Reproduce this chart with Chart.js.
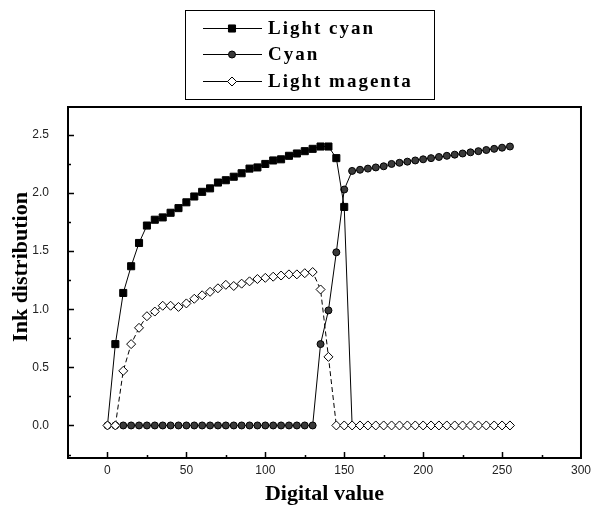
<!DOCTYPE html>
<html>
<head>
<meta charset="utf-8">
<script src="https://cdn.jsdelivr.net/npm/chart.js@4.4.1/dist/chart.umd.min.js"></script>
<style>
  html, body { margin: 0; padding: 0; background: #fff; }
  #wrap { width: 596px; height: 509px; }
</style>
</head>
<body>
<div id="wrap"><canvas id="chart" width="596" height="509"></canvas></div>
<script>
// digital value steps (x)
const digitalValues = [0, 5, 10, 15, 20, 25, 30, 35, 40, 45, 50, 55, 60, 65, 70, 75, 80, 85, 90, 95,
  100, 105, 110, 115, 120, 125, 130, 135, 140, 145, 150, 155, 160, 165, 170, 175, 180, 185, 190, 195,
  200, 205, 210, 215, 220, 225, 230, 235, 240, 245, 250, 255];

const lightCyan = [0, 0.70, 1.14, 1.37, 1.57, 1.72, 1.77, 1.79, 1.83, 1.87, 1.92, 1.97, 2.01, 2.04, 2.09, 2.11,
  2.14, 2.17, 2.21, 2.22, 2.25, 2.28, 2.29, 2.32, 2.34, 2.36, 2.38, 2.40, 2.40, 2.30, 1.88,
  0, 0, 0, 0, 0, 0, 0, 0, 0, 0, 0, 0, 0, 0, 0, 0, 0, 0, 0, 0, 0];

const cyan = [0, 0, 0, 0, 0, 0, 0, 0, 0, 0, 0, 0, 0, 0, 0, 0, 0, 0, 0, 0, 0, 0, 0, 0, 0, 0, 0,
  0.70, 0.99, 1.49, 2.03, 2.19, 2.20, 2.21, 2.22, 2.23, 2.25, 2.26, 2.27, 2.28, 2.29, 2.30, 2.31,
  2.32, 2.33, 2.34, 2.35, 2.36, 2.37, 2.38, 2.39, 2.40];

const lightMagenta = [0, 0, 0.47, 0.70, 0.84, 0.94, 0.98, 1.03, 1.03, 1.02, 1.05, 1.09, 1.12, 1.15, 1.18,
  1.21, 1.20, 1.22, 1.24, 1.26, 1.27, 1.28, 1.29, 1.30, 1.30, 1.31, 1.32, 1.17, 0.59,
  0, 0, 0, 0, 0, 0, 0, 0, 0, 0, 0, 0, 0, 0, 0, 0, 0, 0, 0, 0, 0, 0, 0];

const xTickLabels = [0, 50, 100, 150, 200, 250, 300];
const xMinorTicks = [-25, 25, 75, 125, 175, 225, 275];
const yTickLabels = [0, 0.5, 1.0, 1.5, 2.0, 2.5];
const yMinorTicks = [-0.25, 0.25, 0.75, 1.25, 1.75, 2.25];

const serif = '"Liberation Serif", "Times New Roman", serif';
const sans = '"Liberation Sans", Arial, sans-serif';

const toPoints = (vals) => vals.map((v, i) => ({ x: digitalValues[i], y: v }));

const seriesStyles = [
  { label: 'Light cyan', data: lightCyan, pointStyle: 'rect', pointRadius: 5, fill: '#000', dash: [] },
  { label: 'Cyan', data: cyan, pointStyle: 'circle', pointRadius: 3.5, fill: '#3a3a3a', dash: [] },
  { label: 'Light magenta', data: lightMagenta, pointStyle: 'rectRot', pointRadius: 4.5, fill: '#fff', dash: [5, 3] },
];

// frame + inward ticks
const frameTicks = {
  id: 'frameTicks',
  afterDatasetsDraw(chart) {
    const { ctx, chartArea: a, scales: { x, y } } = chart;
    ctx.save();
    ctx.strokeStyle = '#000';
    ctx.lineWidth = 1.5;
    ctx.beginPath();
    xTickLabels.forEach(v => {
      const px = Math.round(x.getPixelForValue(v)) + 0.5;
      if (px < a.right - 2) { ctx.moveTo(px, a.bottom); ctx.lineTo(px, a.bottom - 6); }
    });
    xMinorTicks.forEach(v => {
      const px = Math.round(x.getPixelForValue(v)) + 0.5;
      if (px > a.left + 2) { ctx.moveTo(px, a.bottom); ctx.lineTo(px, a.bottom - 3); }
    });
    yTickLabels.forEach(v => {
      const py = Math.round(y.getPixelForValue(v)) + 0.5;
      ctx.moveTo(a.left, py); ctx.lineTo(a.left + 6, py);
    });
    yMinorTicks.forEach(v => {
      const py = Math.round(y.getPixelForValue(v)) + 0.5;
      ctx.moveTo(a.left, py); ctx.lineTo(a.left + 3, py);
    });
    ctx.stroke();
    ctx.lineWidth = 2;
    ctx.strokeRect(a.left, a.top, a.right - a.left, a.bottom - a.top);

    // y title
    ctx.translate(21, 267);
    ctx.rotate(-Math.PI / 2);
    ctx.font = 'bold 22px ' + serif;
    ctx.fillStyle = '#000';
    ctx.textAlign = 'center';
    ctx.textBaseline = 'middle';
    ctx.fillText('Ink distribution', 0, 0);
    ctx.restore();
  }
};

// boxed legend at the top
const boxLegend = {
  id: 'boxLegend',
  afterDraw(chart) {
    const { ctx } = chart;
    ctx.save();
    ctx.strokeStyle = '#000';
    ctx.lineWidth = 1;
    ctx.strokeRect(185.5, 10.5, 249, 89);
    const rows = [28, 54, 81];
    seriesStyles.forEach((s, i) => {
      const yy = rows[i] + 0.5;
      ctx.lineWidth = 1;
      ctx.setLineDash([]);
      ctx.beginPath();
      ctx.moveTo(203, yy);
      ctx.lineTo(262, yy);
      ctx.stroke();
      ctx.fillStyle = s.fill;
      Chart.helpers.drawPoint(ctx, { pointStyle: s.pointStyle, radius: s.pointRadius, rotation: 0, borderWidth: 1 }, 232, yy);
      ctx.fillStyle = '#000';
      ctx.font = 'bold 19px ' + serif;
      ctx.letterSpacing = '2px';
      ctx.textAlign = 'left';
      ctx.textBaseline = 'middle';
      ctx.fillText(s.label, 268, rows[i] + 1);
    });
    ctx.restore();
  }
};

const ctx = document.getElementById('chart').getContext('2d');
new Chart(ctx, {
  type: 'line',
  data: {
    datasets: seriesStyles.map((s, i) => ({
      label: s.label,
      data: toPoints(s.data),
      borderColor: '#000',
      borderWidth: 1,
      borderDash: s.dash,
      pointStyle: s.pointStyle,
      pointRadius: (c) => (i === 0 && c.raw && c.raw.y === 0) ? 0 : s.pointRadius,
      pointBackgroundColor: s.fill,
      pointBorderColor: '#000',
      pointBorderWidth: 1,
      tension: 0,
      fill: false,
      order: i === 2 ? 0 : 1,
    })),
  },
  options: {
    responsive: false,
    animation: false,
    devicePixelRatio: 1,
    layout: { padding: { top: 107, right: 14, left: 0, bottom: 0 } },
    plugins: { legend: { display: false }, tooltip: { enabled: false } },
    scales: {
      x: {
        type: 'linear',
        min: -25,
        max: 300,
        grid: { display: false, drawTicks: false },
        border: { display: false },
        afterBuildTicks: (s) => { s.ticks = xTickLabels.map(v => ({ value: v })); },
        afterFit: (s) => { s.height = 51; },
        ticks: {
          padding: 5,
          autoSkip: false,
          maxRotation: 0,
          color: '#222',
          font: { family: sans, size: 12 },
          callback: (v) => String(v),
        },
        title: {
          display: true,
          text: 'Digital value',
          color: '#000',
          font: { family: serif, size: 22, weight: 'bold' },
          padding: { top: 0, bottom: 1 },
        },
      },
      y: {
        type: 'linear',
        min: -0.28,
        max: 2.74,
        grid: { display: false, drawTicks: false },
        border: { display: false },
        afterBuildTicks: (s) => { s.ticks = yTickLabels.map(v => ({ value: v })); },
        afterFit: (s) => { s.width = 68; },
        ticks: {
          padding: 19,
          color: '#222',
          font: { family: sans, size: 12 },
          callback: (v) => Number(v).toFixed(1),
        },
      },
    },
  },
  plugins: [frameTicks, boxLegend],
});
</script>
</body>
</html>
